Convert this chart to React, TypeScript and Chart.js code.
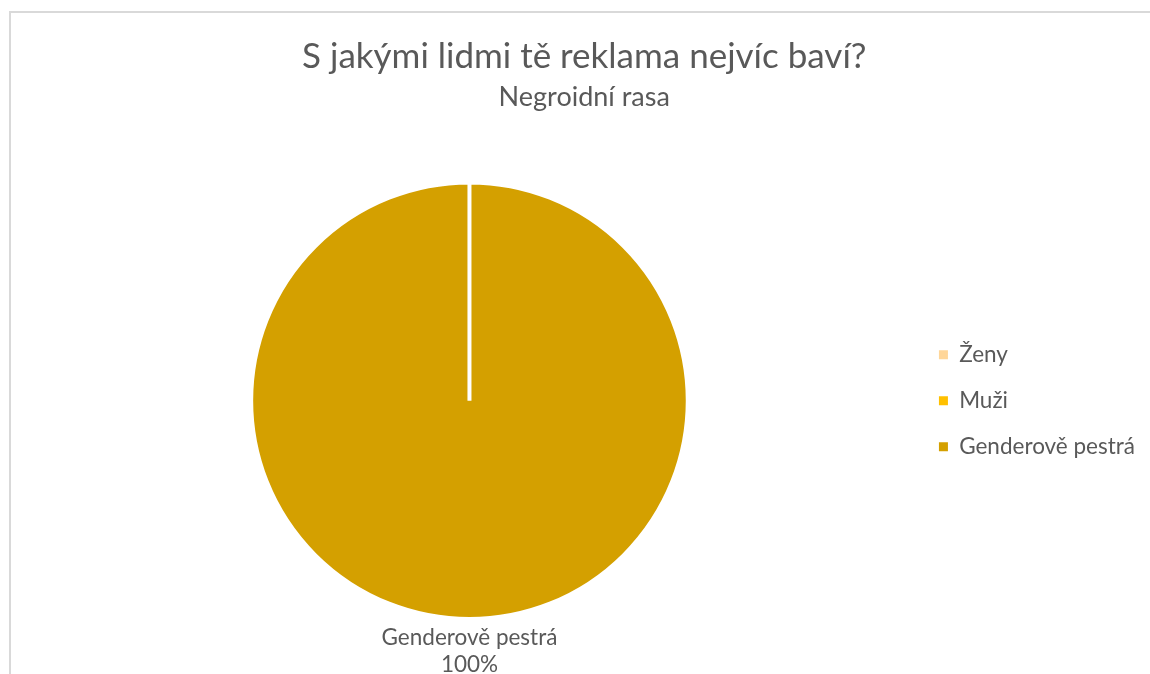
import React, { useEffect, useRef } from "react";
import { Chart, registerables } from "chart.js";

Chart.register(...registerables);

const titleText = "S jakými lidmi tě reklama nejvíc baví?";
const subtitleText = "Negroidní rasa";
const categories = ["Ženy", "Muži", "Genderově pestrá"];
const values = [0, 0, 1];
const colors = ["#FFD699", "#FFC000", "#D4A000"];

const FONT = "Lato, 'Open Sans', sans-serif";
const TEXT = "#595959";

const pieLabelPlugin = {
  id: "pieLabels",
  afterDatasetsDraw(chart: any) {
    const ctx = chart.ctx;
    const meta = chart.getDatasetMeta(0);
    const total = values.reduce((a, b) => a + b, 0);
    meta.data.forEach((arc: any, i: number) => {
      const v = values[i];
      if (!v) return;
      const pct = Math.round((v / total) * 100) + "%";
      const mid = (arc.startAngle + arc.endAngle) / 2;
      const r = arc.outerRadius + 19;
      const x = arc.x + Math.cos(mid) * r;
      const y = arc.y + Math.sin(mid) * r;
      ctx.save();
      ctx.fillStyle = TEXT;
      ctx.font = `22.5px ${FONT}`;
      ctx.textAlign = "center";
      ctx.textBaseline = "middle";
      ctx.fillText(categories[i], x, y);
      ctx.fillText(pct, x, y + 27);
      ctx.restore();
    });
  },
};

export default function App() {
  const ref = useRef<HTMLCanvasElement>(null);
  useEffect(() => {
    if (!ref.current) return;
    const defaultGen = (Chart as any).overrides.pie.plugins.legend.labels.generateLabels;
    const chart = new Chart(ref.current, {
      type: "pie",
      data: {
        labels: categories,
        datasets: [
          {
            data: values,
            backgroundColor: colors,
            borderColor: "#ffffff",
            borderWidth: 4,
          },
        ],
      },
      options: {
        responsive: false,
        animation: false,
        layout: { padding: { left: 23.5, right: 5, top: 0, bottom: 53 } },
        plugins: {
          title: {
            display: true,
            text: titleText,
            color: TEXT,
            font: { family: FONT, size: 35, weight: "normal" },
            padding: { top: 36, bottom: 3 },
          },
          subtitle: {
            display: true,
            text: subtitleText,
            color: TEXT,
            font: { family: FONT, size: 27, weight: "normal" },
            padding: { top: 0, bottom: 67 },
          },
          legend: {
            position: "right",
            fullSize: false,
            labels: {
              color: TEXT,
              font: { family: FONT, size: 22.5 },
              boxWidth: 9,
              boxHeight: 9,
              padding: 23.5,
              generateLabels: (c: any) =>
                defaultGen(c).map((l: any) => ({ ...l, lineWidth: 0, strokeStyle: "transparent" })),
            },
          },
          tooltip: { enabled: false },
        },
      },
      plugins: [pieLabelPlugin],
    });
    return () => chart.destroy();
  }, []);
  return (
    <div
      style={{
        position: "fixed",
        left: 0,
        top: 0,
        width: 1150,
        height: 674,
        overflow: "hidden",
        background: "#fff",
      }}
    >
      <div
        style={{
          position: "absolute",
          left: 9,
          top: 11,
          width: 1300,
          height: 800,
          borderTop: "2px solid #d9d9d9",
          borderLeft: "2px solid #d9d9d9",
        }}
      />
      <canvas
        ref={ref}
        width={1150}
        height={674}
        style={{ position: "absolute", left: 0, top: 0 }}
      />
    </div>
  );
}
